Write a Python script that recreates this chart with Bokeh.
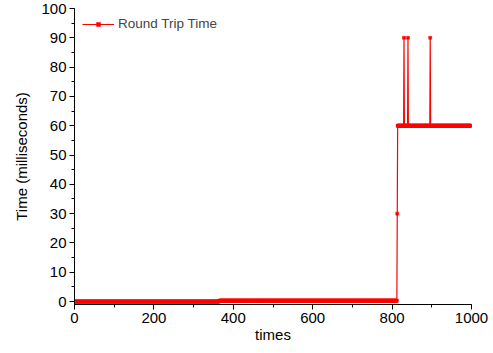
import numpy as np
from bokeh.plotting import figure
from bokeh.models import Range1d, SingleIntervalTicker, Legend, LegendItem
from bokeh.embed import file_html
from bokeh.resources import INLINE

# ---- data (run-length description of the series) ----
n_points = 1000
run_starts = [0, 365, 813, 814]          # index where each level begins
run_values = [0.0, 0.3, 30.0, 60.0]      # level (ms)
spike_times = [830, 840, 896]            # isolated samples at 90 ms
spike_values = [90.0, 90.0, 90.0]
series_label = "Round Trip Time"
x_label = "times"
y_label = "Time (milliseconds)"

# expand runs into the per-sample series
ends = run_starts[1:] + [n_points]
counts = [e - s for s, e in zip(run_starts, ends)]
times = np.arange(n_points)
rtt = np.repeat(np.array(run_values), counts)
for t, v in zip(spike_times, spike_values):
    rtt[t] = v

FONT = "Liberation Sans"
RED = "#ff0000"

p = figure(width=493, height=353, output_backend="svg", toolbar_location=None,
           x_range=Range1d(0, 1000), y_range=Range1d(-1, 100),
           min_border_left=74, min_border_right=22, min_border_top=8,
           min_border_bottom=49)
p.outline_line_color = None
p.xgrid.visible = False
p.ygrid.visible = False
p.background_fill_color = "white"
p.border_fill_color = "white"

ln = p.line(times, rtt, line_color=RED, line_width=1.2)
sc = p.scatter(times, rtt, marker="square", size=3, fill_color=RED,
               line_color=RED, line_width=0.5)

p.xaxis.ticker = SingleIntervalTicker(interval=200, num_minor_ticks=2)
p.yaxis.ticker = SingleIntervalTicker(interval=10, num_minor_ticks=2)
for ax in (p.xaxis[0], p.yaxis[0]):
    ax.axis_line_color = "black"
    ax.major_tick_line_color = "black"
    ax.minor_tick_line_color = "black"
    ax.major_tick_out = 5
    ax.major_tick_in = 0
    ax.minor_tick_out = 3
    ax.minor_tick_in = 0
    ax.major_label_text_font = FONT
    ax.major_label_text_font_size = "15px"
    ax.major_label_text_color = "black"
    ax.axis_label_text_font = FONT
    ax.axis_label_text_font_size = "15px"
    ax.axis_label_text_font_style = "normal"
    ax.axis_label_text_color = "black"
    ax.major_label_standoff = 3
p.xaxis.axis_label = x_label
p.yaxis.axis_label = y_label
p.xaxis.axis_label_standoff = 0
p.yaxis.axis_label_standoff = 8

legend = Legend(items=[LegendItem(label=series_label, renderers=[ln, sc])],
                location="top_left", margin=8, padding=2, glyph_width=32,
                glyph_height=10, label_standoff=4, label_text_font=FONT,
                label_text_font_size="13.5px", border_line_color=None,
                background_fill_alpha=0)
p.add_layout(legend)

open("out.html", "w").write(file_html(p, INLINE))
